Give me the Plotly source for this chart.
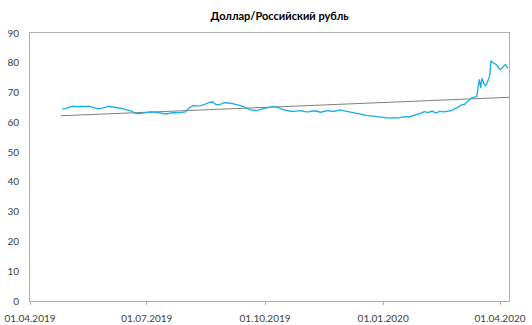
import pandas as pd
import plotly.graph_objects as go

# USD/RUB rate: every third day until end of February, then daily
dates_a = pd.date_range("2019-04-26", "2020-02-29", freq="3D")
dates_b = pd.date_range("2020-03-01", "2020-04-07", freq="D")
usd_rub_a = [
    64.5, 64.6, 65.2, 65.4, 65.2, 65.4, 65.3, 65.4, 65.0, 64.6,
    64.7, 64.9, 65.4, 65.2, 64.9, 64.7, 64.5, 64.1, 63.8, 63.0,
    62.9, 63.1, 63.3, 63.5, 63.4, 63.2, 63.0, 62.8, 63.1, 63.3,
    63.2, 63.4, 63.5, 64.9, 65.6, 65.5, 65.6, 66.0, 66.6, 66.9,
    65.9, 66.0, 66.6, 66.5, 66.4, 66.0, 65.6, 65.4, 64.7, 64.2,
    64.0, 64.1, 64.5, 64.9, 65.1, 65.3, 65.0, 64.4, 64.0, 63.8,
    63.7, 63.8, 63.9, 63.6, 63.5, 63.8, 63.8, 63.4, 63.6, 63.9,
    63.7, 63.8, 64.2, 63.9, 63.7, 63.4, 63.2, 62.8, 62.6, 62.3,
    62.2, 62.0, 61.9, 61.8, 61.6, 61.4, 61.6, 61.4, 61.7, 61.9,
    61.8, 62.2, 62.5, 63.0, 63.6, 63.3, 63.8, 63.1, 63.7, 63.5,
    63.7, 63.9, 64.6, 65.3,
]
usd_rub_b = [
    65.6, 65.8, 66.0, 65.9, 66.3, 66.6, 67.0, 67.4, 68.0, 68.3,
    68.2, 68.5, 68.6, 68.8, 72.0, 74.4, 71.5, 74.8, 73.5, 72.5,
    72.3, 73.2, 74.4, 75.6, 80.5, 80.2, 79.8, 79.6, 79.5, 79.0,
    78.2, 77.7, 78.0, 78.5, 79.0, 79.4, 79.0, 78.1,
]
dates = list(dates_a) + list(dates_b)
usd_rub = usd_rub_a + usd_rub_b

# Linear trend line
trend_dates = ["2019-04-25", "2020-04-08"]
trend_values = [62.2, 68.4]

tick_dates = ["2019-04-01", "2019-07-01", "2019-10-01", "2020-01-01", "2020-04-01"]
tick_labels = ["01.04.2019", "01.07.2019", "01.10.2019", "01.01.2020", "01.04.2020"]

font = "Lato"

fig = go.Figure()
fig.add_trace(go.Scatter(
    x=trend_dates, y=trend_values, mode="lines",
    line=dict(color="#7f7f7f", width=1), hoverinfo="skip",
))
fig.add_trace(go.Scatter(
    x=dates, y=usd_rub, mode="lines",
    line=dict(color="#12aee8", width=1.3),
))

fig.update_layout(
    width=532, height=325,
    margin=dict(l=30, r=23, t=33, b=24),
    paper_bgcolor="white", plot_bgcolor="white",
    showlegend=False,
    font=dict(family=font, size=10, color="#404040"),
    title=dict(
        text="<b>Доллар/Российский рубль</b>",
        x=0.521, xref="paper", xanchor="center",
        y=0.95, yref="container", yanchor="middle",
        font=dict(family=font, size=11, color="#000000"),
    ),
    xaxis=dict(
        type="date",
        range=["2019-04-01", "2020-04-08"],
        tickvals=tick_dates, ticktext=tick_labels,
        showgrid=False, zeroline=False, automargin=False,
        showline=True, linecolor="#b0b0b0", linewidth=1, mirror=True,
        ticks="outside", ticklen=3, tickcolor="#b0b0b0",
        ticklabelstandoff=5,
        tickfont=dict(family=font, size=10, color="#404040"),
    ),
    yaxis=dict(
        range=[0, 90], dtick=10,
        showgrid=False, zeroline=False, automargin=False,
        showline=True, linecolor="#b0b0b0", linewidth=1, mirror=True,
        ticks="", ticklabelstandoff=8,
        tickfont=dict(family=font, size=10, color="#404040"),
    ),
)

fig.write_html("out.html")
